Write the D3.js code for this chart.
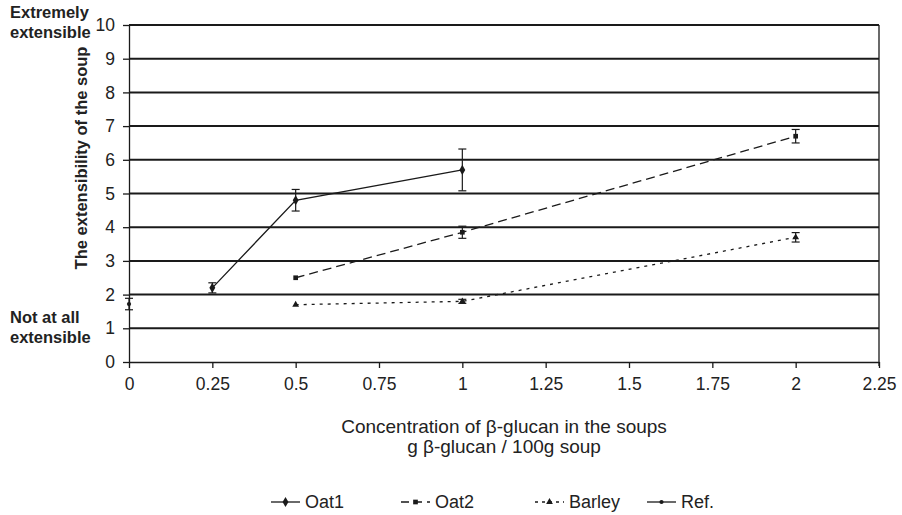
<!DOCTYPE html>
<html>
<head>
<meta charset="utf-8">
<script src="https://cdn.jsdelivr.net/npm/d3@7"></script>
<style>
  body { margin: 0; background: #fff; }
  svg { display: block; font-family: Arial, "Liberation Sans", sans-serif; }
</style>
</head>
<body>
<svg id="chart" width="902" height="515"></svg>
<script>
// Concentration (g β-glucan / 100 g soup) and extensibility scores with error bars
const oat1X = [0.25, 0.5, 1];
const oat1Y = [2.2, 4.8, 5.7];
const oat1Err = [0.15, 0.32, 0.62];

const oat2X = [0.5, 1, 2];
const oat2Y = [2.5, 3.85, 6.7];
const oat2Err = [0, 0.18, 0.2];

const barleyX = [0.5, 1, 2];
const barleyY = [1.7, 1.8, 3.7];
const barleyErr = [0, 0.06, 0.14];

const refX = [0];
const refY = [1.72];
const refErr = [0.17];

const xTicks = [0, 0.25, 0.5, 0.75, 1, 1.25, 1.5, 1.75, 2, 2.25];
const yTicks = [0, 1, 2, 3, 4, 5, 6, 7, 8, 9, 10];

const seriesNames = ["Oat1", "Oat2", "Barley", "Ref."];

const svg = d3.select("#chart");
const m = { left: 129, right: 879, top: 25, bottom: 362 };

const x = d3.scaleLinear().domain([0, 2.25]).range([m.left, m.right]);
const y = d3.scaleLinear().domain([0, 10]).range([m.bottom, m.top]);

// Horizontal gridlines
svg.append("g").selectAll("line")
  .data(yTicks.filter(d => d > 0))
  .join("line")
  .attr("x1", m.left).attr("x2", m.right)
  .attr("y1", d => y(d)).attr("y2", d => y(d))
  .attr("stroke", "#1a1a1a").attr("stroke-width", 2);

// Right border
svg.append("line")
  .attr("x1", m.right).attr("x2", m.right)
  .attr("y1", m.top).attr("y2", m.bottom + 4)
  .attr("stroke", "#1a1a1a").attr("stroke-width", 1.3);

// Axes
const yAxis = d3.axisLeft(y).tickValues(yTicks).tickSize(6).tickSizeOuter(0).tickPadding(8);
const gy = svg.append("g").attr("transform", `translate(${m.left},0)`).call(yAxis);
const xAxis = d3.axisBottom(x).tickValues(xTicks).tickSize(6).tickSizeOuter(0).tickPadding(10)
  .tickFormat(d => String(d));
const gx = svg.append("g").attr("transform", `translate(0,${m.bottom})`).call(xAxis);

[gx, gy].forEach(g => {
  g.select(".domain").attr("stroke", "#1a1a1a").attr("stroke-width", 1.3);
  g.selectAll(".tick line").attr("stroke", "#1a1a1a").attr("stroke-width", 1.3);
  g.selectAll(".tick text").attr("fill", "#222").attr("font-size", 17.5)
    .attr("font-family", "Arial, 'Liberation Sans', sans-serif");
});

// Series definitions
const series = [
  { name: seriesNames[0], xs: oat1X, ys: oat1Y, err: oat1Err, dash: null, marker: "diamond" },
  { name: seriesNames[1], xs: oat2X, ys: oat2Y, err: oat2Err, dash: "9,5", marker: "square" },
  { name: seriesNames[2], xs: barleyX, ys: barleyY, err: barleyErr, dash: "3,5", marker: "triangle" },
  { name: seriesNames[3], xs: refX, ys: refY, err: refErr, dash: null, marker: "circle" }
];

const symbolFor = {
  diamond: d3.symbol().type(d3.symbolDiamond).size(30),
  square: d3.symbol().type(d3.symbolSquare).size(22),
  triangle: d3.symbol().type(d3.symbolTriangle).size(20),
  circle: d3.symbol().type(d3.symbolCircle).size(14)
};

const line = d3.line().x(d => x(d[0])).y(d => y(d[1]));

series.forEach(s => {
  const pts = s.xs.map((v, i) => [v, s.ys[i], s.err[i]]);
  const g = svg.append("g");
  if (pts.length > 1) {
    g.append("path").datum(pts).attr("d", line)
      .attr("fill", "none").attr("stroke", "#1a1a1a").attr("stroke-width", 1.3)
      .attr("stroke-dasharray", s.dash);
  }
  // Error bars
  pts.filter(p => p[2] > 0).forEach(p => {
    const cx = x(p[0]), y1 = y(p[1] - p[2]), y2 = y(p[1] + p[2]);
    g.append("line").attr("x1", cx).attr("x2", cx).attr("y1", y1).attr("y2", y2)
      .attr("stroke", "#1a1a1a").attr("stroke-width", 1.2);
    [y1, y2].forEach(yy => g.append("line")
      .attr("x1", cx - 4).attr("x2", cx + 4).attr("y1", yy).attr("y2", yy)
      .attr("stroke", "#1a1a1a").attr("stroke-width", 1.2));
  });
  g.selectAll("path.mk").data(pts).join("path").attr("class", "mk")
    .attr("transform", p => `translate(${x(p[0])},${y(p[1])})`)
    .attr("d", symbolFor[s.marker]())
    .attr("fill", "#1a1a1a");
});

// Y-axis title and scale anchors
svg.append("text")
  .attr("transform", `translate(87,158) rotate(-90)`)
  .attr("text-anchor", "middle")
  .attr("font-size", 16.5).attr("font-weight", "bold").attr("fill", "#222")
  .text("The extensibility of the soup");

const anchor = (lines, yy) => lines.forEach((t, i) => svg.append("text")
  .attr("x", 10).attr("y", yy + i * 20)
  .attr("font-size", 16.5).attr("font-weight", "bold").attr("fill", "#222").text(t));
anchor(["Extremely", "extensible"], 18);
anchor(["Not at all", "extensible"], 323);

// X-axis title
const xt = svg.append("text").attr("text-anchor", "middle").attr("fill", "#222").attr("font-size", 19);
xt.append("tspan").attr("x", 504).attr("y", 433).text("Concentration of β-glucan in the soups");
xt.append("tspan").attr("x", 504).attr("y", 453).text("g β-glucan / 100g soup");

// Legend
const legendX = [271, 401, 535, 647];
const legend = svg.append("g");
series.forEach((s, i) => {
  const lx = legendX[i], ly = 502;
  legend.append("line").attr("x1", lx).attr("x2", lx + 29).attr("y1", ly).attr("y2", ly)
    .attr("stroke", "#1a1a1a").attr("stroke-width", 1.3)
    .attr("stroke-dasharray", s.dash ? (s.marker === "triangle" ? "3,4" : "8,5") : null);
  legend.append("path").attr("transform", `translate(${lx + 14.5},${ly})`)
    .attr("d", symbolFor[s.marker]()).attr("fill", "#1a1a1a");
  legend.append("text").attr("x", lx + 34).attr("y", ly + 6)
    .attr("font-size", 18).attr("fill", "#222").text(s.name);
});
</script>
</body>
</html>
